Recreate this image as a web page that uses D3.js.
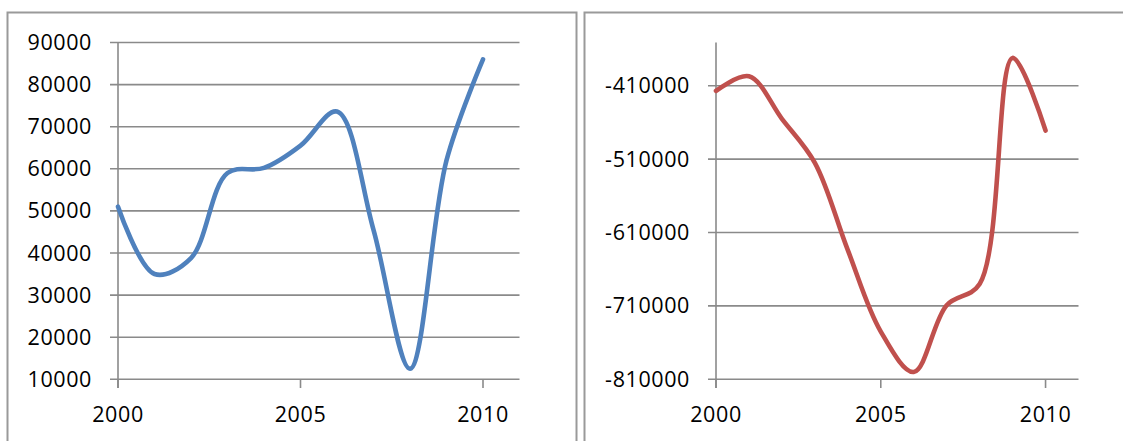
<!DOCTYPE html>
<html>
<head>
<meta charset="utf-8">
<script src="https://cdn.jsdelivr.net/npm/d3@7"></script>
<style>
  html, body { margin: 0; padding: 0; background: #fff; }
  svg { display: block; }
  text { font-family: "Open Sans", "Liberation Sans", sans-serif; font-size: 21.5px; letter-spacing: 0.6px; fill: #000; }
</style>
</head>
<body>
<svg id="chart" width="1123" height="441"></svg>
<script>
// Years on the x axis
const years = [2000, 2001, 2002, 2003, 2004, 2005, 2006, 2007, 2008, 2009, 2010];
// Left panel series
const blueValues = [51000, 35000, 38800, 59000, 60200, 65500, 73600, 45500, 12500, 62000, 86000];
// Right panel series
const redValues = [-417000, -397000, -455000, -515000, -634000, -745000, -800000, -709000, -680000, -372000, -471000];
// Tick labels
const xTicks = [2000, 2005, 2010];
const blueTicks = [10000, 20000, 30000, 40000, 50000, 60000, 70000, 80000, 90000];
const redTicks = [-810000, -710000, -610000, -510000, -410000];

const svg = d3.select("#chart");
const gridColor = "#8a8a8a";

// Panel frames
svg.append("rect").attr("x", 7.5).attr("y", 12.5).attr("width", 569).attr("height", 460)
  .attr("fill", "none").attr("stroke", "#9a9a9a").attr("stroke-width", 2);
svg.append("rect").attr("x", 584.5).attr("y", 12.5).attr("width", 600).attr("height", 460)
  .attr("fill", "none").attr("stroke", "#9a9a9a").attr("stroke-width", 2);

function drawPanel(cfg) {
  const x = d3.scaleLinear().domain([2000, 2011]).range([cfg.left, cfg.right]);
  const y = d3.scaleLinear().domain(cfg.yDomain).range([379.3, 42.5]);
  const g = svg.append("g");

  // Horizontal gridlines with left tick stubs
  g.selectAll(".grid").data(cfg.yTicks).join("line")
    .attr("x1", cfg.left - 8).attr("x2", cfg.right)
    .attr("y1", d => y(d)).attr("y2", d => y(d))
    .attr("stroke", gridColor).attr("stroke-width", 1.6);

  // Vertical axis line
  g.append("line").attr("x1", cfg.left).attr("x2", cfg.left)
    .attr("y1", 42.5).attr("y2", 388)
    .attr("stroke", gridColor).attr("stroke-width", 1.6);

  // X tick marks below the axis
  g.selectAll(".xtick").data(xTicks).join("line")
    .attr("x1", d => x(d)).attr("x2", d => x(d))
    .attr("y1", 379.3).attr("y2", 388)
    .attr("stroke", gridColor).attr("stroke-width", 1.6);

  // Y labels
  g.selectAll(".ylab").data(cfg.yTicks).join("text")
    .attr("x", cfg.left - 26).attr("y", d => y(d) + 7.5)
    .attr("text-anchor", "end")
    .text(d => d);

  // X labels
  g.selectAll(".xlab").data(xTicks).join("text")
    .attr("x", d => x(d)).attr("y", 422)
    .attr("text-anchor", "middle")
    .text(d => d);

  // Smoothed series line
  const line = d3.line()
    .x((d, i) => x(years[i]))
    .y(d => y(d))
    .curve(d3.curveCatmullRom.alpha(0.5));
  g.append("path").datum(cfg.values)
    .attr("d", line)
    .attr("fill", "none")
    .attr("stroke", cfg.color)
    .attr("stroke-width", 4.6)
    .attr("stroke-linecap", "round")
    .attr("stroke-linejoin", "round");
}

drawPanel({ left: 118, right: 519.5, yDomain: [10000, 90000], yTicks: blueTicks, values: blueValues, color: "#4F81BD" });
drawPanel({ left: 716, right: 1078.5, yDomain: [-810000, -351000], yTicks: redTicks, values: redValues, color: "#C0504D" });
</script>
</body>
</html>
